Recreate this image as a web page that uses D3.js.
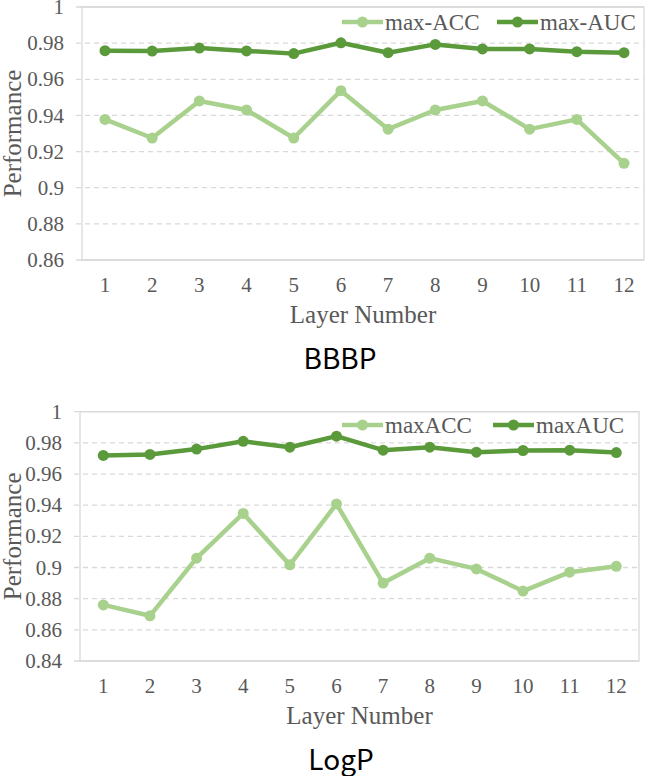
<!DOCTYPE html>
<html>
<head>
<meta charset="utf-8">
<script src="https://cdn.jsdelivr.net/npm/d3@7"></script>
<style>
    body { margin: 0; background: #fff; }
    svg { display: block; }
</style>
</head>
<body>
<svg id="chart" width="649" height="776"></svg>
<script>
// layer numbers on the x axis
const layers = [1, 2, 3, 4, 5, 6, 7, 8, 9, 10, 11, 12];

// BBBP panel
const bbbpAcc = [0.9378, 0.9275, 0.948, 0.943, 0.9275, 0.9537, 0.9324, 0.943, 0.948, 0.9324, 0.9378, 0.9135];
const bbbpAuc = [0.9758, 0.9756, 0.9773, 0.9757, 0.9742, 0.9802, 0.9747, 0.9793, 0.9768, 0.9768, 0.9753, 0.9747];
const bbbpTicks = [0.86, 0.88, 0.9, 0.92, 0.94, 0.96, 0.98, 1];

// LogP panel
const logpAcc = [0.876, 0.869, 0.906, 0.9347, 0.9017, 0.9408, 0.89, 0.906, 0.8991, 0.8849, 0.897, 0.9008];
const logpAuc = [0.9719, 0.9726, 0.976, 0.981, 0.9772, 0.9843, 0.9753, 0.9772, 0.974, 0.9751, 0.9753, 0.9738];
const logpTicks = [0.84, 0.86, 0.88, 0.9, 0.92, 0.94, 0.96, 0.98, 1];

const lightGreen = '#a9d18e';
const darkGreen = '#5b9a3b';
const textColor = '#595959';
const gridColor = '#d9d9d9';
const serif = '"Liberation Serif", "DejaVu Serif", serif';

const svg = d3.select('#chart');

function drawPanel(cfg) {
    const g = svg.append('g');
    const { left, right, top, bottom } = cfg.box;

    const x = d3.scalePoint().domain(layers).range([cfg.xFirst, cfg.xLast]);
    const y = d3.scaleLinear()
        .domain(d3.extent(cfg.ticks))
        .range([bottom, top]);

    // dashed gridlines with small outward ticks
    g.selectAll('line.grid')
        .data(cfg.ticks)
        .enter()
        .append('line')
        .attr('class', 'grid')
        .attr('x1', left - 6)
        .attr('x2', right)
        .attr('y1', (d) => y(d))
        .attr('y2', (d) => y(d))
        .attr('stroke', gridColor)
        .attr('stroke-width', 1.3)
        .attr('stroke-dasharray', (d, i) => (i === 0 || i === cfg.ticks.length - 1) ? null : '5,4');

    // plot frame
    g.append('rect')
        .attr('x', left)
        .attr('y', top)
        .attr('width', right - left)
        .attr('height', bottom - top)
        .attr('fill', 'none')
        .attr('stroke', gridColor)
        .attr('stroke-width', 1.3);

    // y tick labels
    g.selectAll('text.ytick')
        .data(cfg.ticks)
        .enter()
        .append('text')
        .attr('class', 'ytick')
        .attr('x', left - 18)
        .attr('y', (d) => y(d))
        .attr('dy', '0.34em')
        .attr('text-anchor', 'end')
        .attr('font-family', serif)
        .attr('font-size', 21)
        .attr('fill', textColor)
        .text((d) => String(+d.toFixed(2)));

    // x tick labels
    g.selectAll('text.xtick')
        .data(layers)
        .enter()
        .append('text')
        .attr('class', 'xtick')
        .attr('x', (d) => x(d))
        .attr('y', bottom + 32)
        .attr('text-anchor', 'middle')
        .attr('font-family', serif)
        .attr('font-size', 21)
        .attr('fill', textColor)
        .text((d) => d);

    // axis titles
    g.append('text')
        .attr('x', (left + right) / 2)
        .attr('y', bottom + 63)
        .attr('text-anchor', 'middle')
        .attr('font-family', serif)
        .attr('font-size', 25)
        .attr('fill', textColor)
        .text('Layer Number');

    g.append('text')
        .attr('transform', `translate(21,${(top + bottom) / 2}) rotate(-90)`)
        .attr('text-anchor', 'middle')
        .attr('font-family', serif)
        .attr('font-size', 25)
        .attr('fill', textColor)
        .text('Performance');

    // series
    const line = d3.line()
        .x((d, i) => x(layers[i]))
        .y((d) => y(d));

    cfg.series.forEach((s) => {
        g.append('path')
            .datum(s.values)
            .attr('d', line)
            .attr('fill', 'none')
            .attr('stroke', s.color)
            .attr('stroke-width', 4.5)
            .attr('stroke-linejoin', 'round');

        g.selectAll(null)
            .data(s.values)
            .enter()
            .append('circle')
            .attr('cx', (d, i) => x(layers[i]))
            .attr('cy', (d) => y(d))
            .attr('r', 5.5)
            .attr('fill', s.color);
    });

    // legend
    cfg.series.forEach((s) => {
        const lg = g.append('g').attr('transform', `translate(${s.legendX},${cfg.legendY})`);
        lg.append('line')
            .attr('x1', 0).attr('x2', 41)
            .attr('stroke', s.color)
            .attr('stroke-width', 4.5);
        lg.append('circle')
            .attr('cx', 20.5)
            .attr('r', 5.5)
            .attr('fill', s.color);
        lg.append('text')
            .attr('x', 43)
            .attr('y', 8)
            .attr('font-family', serif)
            .attr('font-size', 23)
            .attr('fill', textColor)
            .text(s.name);
    });

    // panel title
    g.append('text')
        .attr('x', cfg.titleX)
        .attr('y', bottom + 109)
        .attr('text-anchor', 'middle')
        .attr('font-family', '"Noto Sans CJK SC", "Noto Sans", sans-serif')
        .attr('font-size', 28)
        .attr('fill', '#000')
        .text(cfg.title);
}

drawPanel({
    title: 'BBBP',
    titleX: 340,
    box: { left: 82, right: 644, top: 7, bottom: 260 },
    xFirst: 105,
    xLast: 624,
    ticks: bbbpTicks,
    legendY: 22,
    series: [
        { name: 'max-ACC', values: bbbpAcc, color: lightGreen, legendX: 342 },
        { name: 'max-AUC', values: bbbpAuc, color: darkGreen, legendX: 497 },
    ],
});

drawPanel({
    title: 'LogP',
    titleX: 341,
    box: { left: 80, right: 639, top: 411.7, bottom: 661 },
    xFirst: 103.3,
    xLast: 616.3,
    ticks: logpTicks,
    legendY: 425,
    series: [
        { name: 'maxACC', values: logpAcc, color: lightGreen, legendX: 342 },
        { name: 'maxAUC', values: logpAuc, color: darkGreen, legendX: 493 },
    ],
});
</script>
</body>
</html>
